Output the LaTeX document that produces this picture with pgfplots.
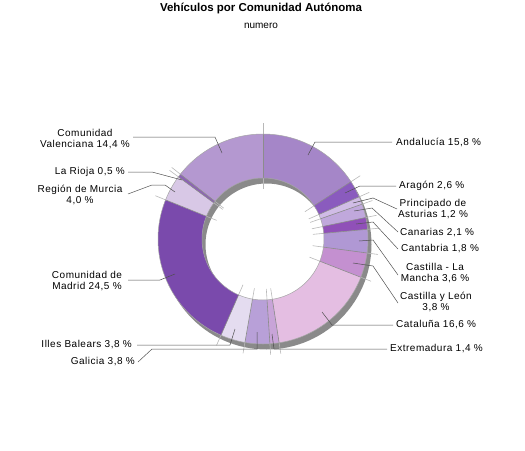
\documentclass[border=0pt]{standalone}
\usepackage{pgfplots}
\pgfplotsset{compat=1.18}
\usepackage{pgfplotstable}
\usepackage{fontspec}
\setmainfont{Liberation Sans}
\newfontfamily\labfont[LetterSpace=5]{Liberation Sans}

\definecolor{cA}{HTML}{A586C8}
\definecolor{cB}{HTML}{8A5BBE}
\definecolor{cC}{HTML}{D0BCE6}
\definecolor{cD}{HTML}{C0A8DC}
\definecolor{cE}{HTML}{9050B8}
\definecolor{cF}{HTML}{B098D4}
\definecolor{cG}{HTML}{C490D0}
\definecolor{cH}{HTML}{E4BEE2}
\definecolor{cI}{HTML}{C8A4D8}
\definecolor{cJ}{HTML}{B8A0D8}
\definecolor{cK}{HTML}{E4DCF0}
\definecolor{cL}{HTML}{7A4AAC}
\definecolor{cM}{HTML}{D8C8E6}
\definecolor{cN}{HTML}{8C64B4}
\definecolor{cO}{HTML}{B498D0}
\definecolor{shadowgray}{HTML}{8A8A8A}
\definecolor{sepl}{HTML}{B8B8B8}
\definecolor{leader}{HTML}{505050}

% percentages, clockwise from 12 o'clock
\pgfplotstableread{
value col
15.8 cA
2.6  cB
1.2  cC
2.1  cD
1.8  cE
3.6  cF
3.8  cG
16.6 cH
1.4  cI
3.8  cJ
3.8  cK
24.5 cL
4.0  cM
0.5  cN
14.4 cO
}\slicetable

\newcommand\total{99.9}
\newcommand\cx{263}
\newcommand\cy{239}

\newcommand\sliceloop[1]{%
  \gdef\cum{0}%
  \foreach \i in {0,...,14}{%
    \pgfplotstablegetelem{\i}{value}\of\slicetable \let\sval\pgfplotsretval
    \pgfplotstablegetelem{\i}{col}\of\slicetable \let\scol\pgfplotsretval
    \pgfmathsetmacro\sA{\cum/\total*360}%
    \pgfmathsetmacro\sB{(\cum+\sval)/\total*360}%
    #1%
    \pgfmathsetmacro\newcum{\cum+\sval}\xdef\cum{\newcum}%
  }}

\tikzset{lab/.style={font=\labfont\fontsize{10}{11.5}\selectfont, inner sep=0pt, text=black, align=center}}

\begin{document}
\begin{tikzpicture}
\begin{axis}[width=525pt,height=450pt,scale only axis,
  xmin=0,xmax=525,ymin=0,ymax=450,y dir=reverse,hide axis,clip=false]
\path (axis cs:0,0) rectangle (axis cs:525,450);

% shadow ring
\addplot[fill=shadowgray, draw=none, domain=0:3, samples=361]
 ({\cx+3.5+(x<1?105:(x<2?105-44*(x-1):61))*sin(x<1?360*x:(x<2?360:360-360*(x-2)))},
  {\cy+5.5-(x<1?105:(x<2?105-44*(x-1):61))*cos(x<1?360*x:(x<2?360:360-360*(x-2)))});

% light extension lines
\sliceloop{\edef\temp{\noexpand\addplot[sepl, line width=0.6pt, domain=50:116, samples=2] ({\cx+x*sin(\sA)},{\cy-x*cos(\sA)});}\temp}

% slices
\sliceloop{\edef\temp{\noexpand\addplot[fill=\scol, draw=none, domain=0:3, samples=181]
 ({\cx+(x<1?105:(x<2?105-44*(x-1):61))*sin(x<1?\sA+(\sB-\sA)*x:(x<2?\sB:\sB-(\sB-\sA)*(x-2)))},
  {\cy-(x<1?105:(x<2?105-44*(x-1):61))*cos(x<1?\sA+(\sB-\sA)*x:(x<2?\sB:\sB-(\sB-\sA)*(x-2)))});}\temp}

% dark separators
\sliceloop{\edef\temp{\noexpand\addplot[black!45, line width=0.6pt, domain=61:105, samples=2] ({\cx+x*sin(\sA)},{\cy-x*cos(\sA)});}\temp}

\addplot[black!35, line width=0.5pt, domain=0:360, samples=181] ({\cx+105*sin(x)},{\cy-105*cos(x)});
\addplot[black!35, line width=0.5pt, domain=0:360, samples=181] ({\cx+61*sin(x)},{\cy-61*cos(x)});

% leader lines
\addplot[leader, line width=0.5pt] coordinates {(308,155) (315,142) (392,142)};
\addplot[leader, line width=0.5pt] coordinates {(345,193) (360,186) (396,186)};
\addplot[leader, line width=0.5pt] coordinates {(353,203) (373,198) (397,209)};
\addplot[leader, line width=0.5pt] coordinates {(354,211) (372,208) (398,232)};
\addplot[leader, line width=0.5pt] coordinates {(356,224) (373,222) (398,249)};
\addplot[leader, line width=0.5pt] coordinates {(359,241) (373,240) (398,275)};
\addplot[leader, line width=0.5pt] coordinates {(353,263) (373,266) (398,303)};
\addplot[leader, line width=0.5pt] coordinates {(322,312) (332,325) (393,325)};
\addplot[leader, line width=0.5pt] coordinates {(272,334) (274,349) (387,349)};
\addplot[leader, line width=0.5pt] coordinates {(257,332) (257,349) (152,349) (138,362)};
\addplot[leader, line width=0.5pt] coordinates {(235,329) (230,345) (137,345)};
\addplot[leader, line width=0.5pt] coordinates {(175,274) (160,280) (128,280)};
\addplot[leader, line width=0.5pt] coordinates {(175,192) (165,185) (152,185) (128,194)};
\addplot[leader, line width=0.5pt] coordinates {(182,180) (152,172) (128,172)};
\addplot[leader, line width=0.5pt] coordinates {(222,153) (215,137) (133,137)};

% labels
\node[lab, anchor=west] at (axis cs:396,142) {Andalucía 15,8 \%};
\node[lab, anchor=west] at (axis cs:399,186) {Aragón 2,6 \%};
\node[lab] at (axis cs:433,209) {Principado de\\Asturias 1,2 \%};
\node[lab, anchor=west] at (axis cs:400,233) {Canarias 2,1 \%};
\node[lab, anchor=west] at (axis cs:401,249) {Cantabria 1,8 \%};
\node[lab] at (axis cs:435,273) {Castilla - La\\Mancha 3,6 \%};
\node[lab] at (axis cs:436,302) {Castilla y León\\3,8 \%};
\node[lab, anchor=west] at (axis cs:396,325) {Cataluña 16,6 \%};
\node[lab, anchor=west] at (axis cs:390,349) {Extremadura 1,4 \%};
\node[lab, anchor=east] at (axis cs:135,362) {Galicia 3,8 \%};
\node[lab, anchor=east] at (axis cs:132,345) {Illes Balears 3,8 \%};
\node[lab] at (axis cs:87,281) {Comunidad de\\Madrid 24,5 \%};
\node[lab] at (axis cs:80,195) {Región de Murcia\\4,0 \%};
\node[lab, anchor=east] at (axis cs:125,172) {La Rioja 0,5 \%};
\node[lab] at (axis cs:85,139) {Comunidad\\Valenciana 14,4 \%};

\node[font=\bfseries\fontsize{11.5}{13}\selectfont, inner sep=0pt] at (axis cs:261,8) {Vehículos por Comunidad Autónoma};
\node[font=\fontsize{10}{12}\selectfont, inner sep=0pt] at (axis cs:261,26) {numero};
\end{axis}
\end{tikzpicture}
\end{document}
